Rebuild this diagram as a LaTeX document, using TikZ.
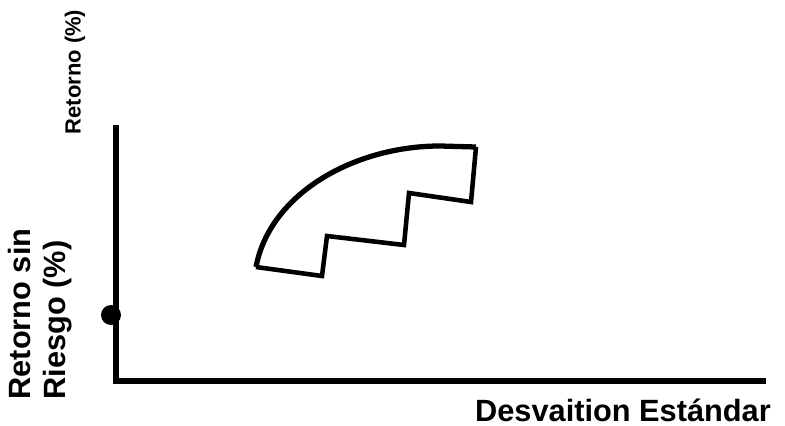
\documentclass[tikz,border=0pt]{standalone}
\usepackage{fontspec}
\setmainfont{Liberation Sans}
\usepackage{tikz}

\begin{document}
\begin{tikzpicture}[x=0.02cm,y=-0.02cm]
  \useasboundingbox (0,0) rectangle (785,426);

  % axes
  \coordinate (O) at (116,381);
  \coordinate (Y) at (116,125);
  \coordinate (X) at (766,381);
  \draw[line width=3.2pt] (Y) -- (O) -- (X);
  \fill[black] (111,315) circle (10);

  % labels
  \node[rotate=90, font=\bfseries\fontsize{12.5}{15}\selectfont] (ylab) at (75,72) {Retorno (\%)};
  \node[rotate=90, align=left, font=\bfseries\fontsize{17.5}{19.8}\selectfont] (rf) at (40,314) {Retorno sin\\Riesgo (\%)};
  \node[anchor=base, font=\bfseries\fontsize{17.5}{19.8}\selectfont] (xlab) at (623,421) {Desvaition Estándar};

  % region
  \coordinate (A) at (256,267);
  \coordinate (B) at (322,276);
  \coordinate (C) at (327,236);
  \coordinate (D) at (404,245);
  \coordinate (E) at (409,193);
  \coordinate (F) at (471,202);
  \coordinate (G) at (476,147);
  \coordinate (H) at (440,146);
  \draw[line width=3pt] (A) .. controls (270,193) and (355,146) .. (H) -- (G);
  \draw[line width=2.6pt] (A) -- (B) -- (C) -- (D) -- (E) -- (F) -- (G);
\end{tikzpicture}
\end{document}
